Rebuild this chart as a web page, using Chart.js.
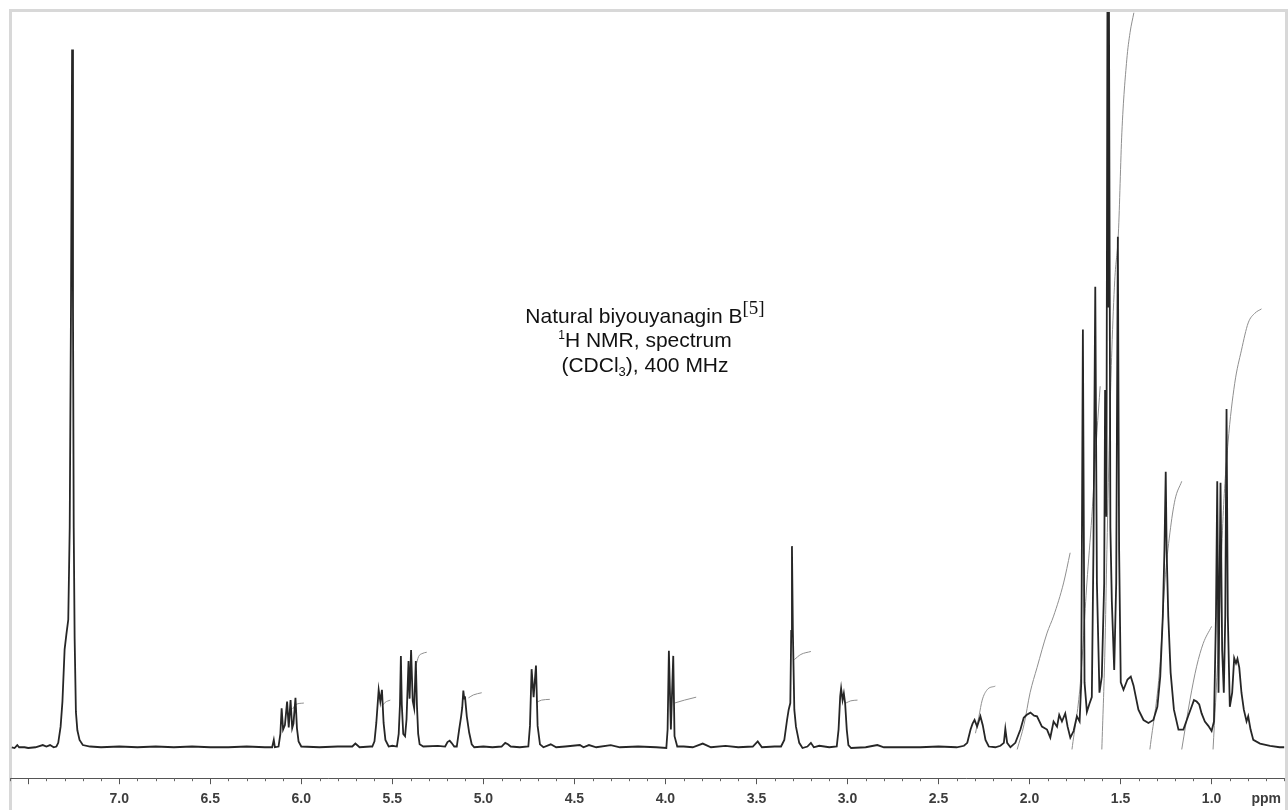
<!DOCTYPE html>
<html>
<head>
<meta charset="utf-8">
<script src="https://cdn.jsdelivr.net/npm/chart.js@4.4.1/dist/chart.umd.min.js"></script>
<style>
  html, body { margin: 0; padding: 0; background: #fff; }
  #wrap { position: relative; width: 1288px; height: 810px; overflow: hidden; }
  #frame { position: absolute; left: 9px; top: 9px; width: 1273px; height: 820px;
           border: 3px solid #d8d8d8; border-bottom: none; }
  #chart { position: absolute; left: 0; top: 0; }
  #note { position: absolute; left: 445px; top: 305px; width: 400px; text-align: center;
          font-family: "Liberation Sans", Arial, sans-serif; font-size: 21px; line-height: 22.5px; color: #111; }
  #note .ref { font-family: "Liberation Serif", "Times New Roman", serif; font-size: 19px; position: relative; top: -9px; }
  #note .sup { font-size: 12px; position: relative; top: -8px; }
  #note .sub { font-size: 13px; position: relative; top: 4px; }
</style>
</head>
<body>
<div id="wrap">
  <div id="frame"></div>
  <canvas id="chart" width="1288" height="819"></canvas>
  <div id="note">
    Natural biyouyanagin B<span class="ref">[5]</span><br>
    <span class="sup">1</span>H NMR, spectrum<br>
    (CDCl<span class="sub">3</span>), 400 MHz
  </div>
</div>
<script>
// 1H trace, [ppm, intensity] (baseline = 0)
var spectrum = [
  [7.59,0.2],[7.575,0.1],[7.56,0.5],[7.55,0.2],[7.52,0.2],[7.50,0.1],[7.46,0.2],[7.42,0.5],[7.40,0.3],[7.38,0.5],[7.36,0.2],[7.345,0.3],
  [7.335,0.8],[7.322,3.0],[7.312,6.4],[7.300,13.5],[7.290,15.6],[7.280,17.5],[7.272,30],[7.265,60],[7.259,94.9],[7.254,60],[7.250,30],[7.245,15],[7.238,5],[7.230,2.5],[7.218,1.2],[7.20,0.5],[7.16,0.3],
  [7.10,0.2],[7.0,0.3],[6.9,0.2],[6.8,0.3],[6.7,0.2],[6.6,0.3],[6.5,0.2],[6.4,0.2],[6.3,0.3],[6.2,0.2],[6.16,0.2],[6.151,1.2],[6.145,0.2],
  [6.125,0.3],[6.115,2.0],[6.108,5.5],[6.100,2.6],[6.090,3.2],[6.078,6.4],[6.069,2.9],[6.059,6.6],[6.050,2.8],[6.043,3.4],[6.032,6.9],[6.024,2.8],[6.015,1.0],[6.0,0.3],
  [5.9,0.2],[5.8,0.3],[5.72,0.3],[5.703,0.7],[5.68,0.2],[5.62,0.3],
  [5.61,0.3],[5.598,1.0],[5.588,3.5],[5.575,8.0],[5.566,6.4],[5.557,8.0],[5.548,3.5],[5.538,1.2],[5.52,0.3],[5.50,0.4],
  [5.475,0.3],[5.465,2.0],[5.458,6.0],[5.453,12.6],[5.448,6.0],[5.440,2.0],[5.430,1.7],[5.422,4.0],[5.411,11.9],[5.405,6.8],[5.397,13.4],[5.388,6.5],[5.380,5.5],[5.371,11.9],[5.365,6.0],[5.358,2.0],[5.35,0.6],[5.33,0.3],
  [5.25,0.4],[5.21,0.3],[5.197,0.9],[5.185,1.1],[5.175,0.8],[5.16,0.3],
  [5.146,0.3],[5.133,2.6],[5.122,4.4],[5.116,5.6],[5.110,7.9],[5.105,6.8],[5.101,7.1],[5.091,4.4],[5.078,2.2],[5.064,0.6],[5.05,0.2],
  [5.0,0.3],[4.95,0.2],[4.90,0.3],[4.88,0.8],[4.865,0.6],[4.85,0.3],[4.80,0.2],
  [4.753,0.3],[4.744,3.1],[4.735,10.8],[4.724,7.0],[4.711,11.3],[4.702,3.1],[4.689,0.6],[4.67,0.2],
  [4.63,0.6],[4.60,0.2],[4.55,0.3],[4.47,0.5],[4.45,0.2],[4.42,0.5],[4.38,0.2],[4.30,0.5],[4.25,0.2],[4.15,0.3],[4.05,0.2],
  [3.995,0.1],[3.988,2.6],[3.981,13.3],[3.970,2.6],[3.957,12.6],[3.950,1.7],[3.935,0.3],
  [3.90,0.3],[3.85,0.2],[3.795,0.7],[3.75,0.2],[3.67,0.4],[3.60,0.2],[3.52,0.3],[3.493,1.0],[3.47,0.2],[3.40,0.3],
  [3.365,0.3],[3.347,1.2],[3.332,3.9],[3.323,5.3],[3.314,6.2],[3.309,16],[3.305,27.5],[3.300,16],[3.292,5.3],[3.283,3.0],[3.265,0.8],[3.247,0.1],
  [3.22,0.3],[3.201,0.8],[3.185,0.2],[3.155,0.4],[3.10,0.2],
  [3.059,0.3],[3.049,2.6],[3.040,7.1],[3.035,8.2],[3.027,6.6],[3.020,7.5],[3.013,6.2],[3.004,2.6],[2.995,0.5],[2.98,0.1],
  [2.90,0.2],[2.836,0.5],[2.80,0.2],[2.70,0.2],[2.60,0.2],[2.50,0.3],[2.40,0.2],[2.36,0.4],
  [2.342,0.8],[2.324,2.6],[2.313,3.4],[2.302,3.9],[2.288,3.0],[2.270,4.4],[2.257,3.2],[2.242,1.2],[2.224,0.3],[2.188,0.2],[2.160,0.4],[2.141,0.8],[2.133,2.7],[2.123,0.8],[2.105,0.2],
  [2.078,0.8],[2.050,2.6],[2.032,4.2],[2.015,4.6],[1.995,4.9],[1.975,4.5],[1.959,4.4],[1.932,3.0],[1.904,2.6],[1.886,1.5],[1.868,3.7],[1.849,3.0],[1.837,4.6],[1.822,3.7],[1.804,4.8],[1.791,3.0],[1.776,1.5],[1.758,2.4],[1.740,4.4],[1.725,3.7],
  [1.716,9.0],[1.707,56.9],[1.698,9.0],[1.685,5.0],[1.671,6.1],[1.658,7.0],[1.649,27],[1.639,62.7],[1.630,22.5],[1.616,7.6],[1.603,9.8],[1.590,22.5],[1.585,48.7],[1.578,31.5],
  [1.572,103],[1.568,60],[1.564,103],[1.556,30],[1.548,20],[1.535,10.7],[1.524,22.5],[1.515,69.5],[1.508,27],[1.499,9.0],[1.484,8.0],[1.462,9.4],[1.444,9.8],[1.429,8.6],[1.402,5.3],[1.374,3.9],[1.347,3.5],[1.320,3.9],
  [1.298,5.7],[1.282,9.8],[1.268,18],[1.259,27],[1.252,37.6],[1.247,27],[1.238,18],[1.225,10.3],[1.207,5.3],[1.182,2.6],[1.155,2.6],
  [1.129,4.4],[1.110,5.7],[1.097,6.6],[1.082,6.4],[1.068,6.0],[1.055,4.8],[1.037,3.7],[1.018,3.1],[1.000,2.4],
  [0.987,3.7],[0.976,18],[0.969,36.3],[0.962,7.6],[0.951,36.1],[0.942,13.4],[0.933,7.6],[0.925,18],[0.918,46.1],[0.911,18],[0.900,5.7],
  [0.887,7.6],[0.876,12.3],[0.866,11.6],[0.858,12.2],[0.848,11.0],[0.836,7.6],[0.823,5.3],[0.808,3.7],[0.799,4.4],[0.786,2.6],[0.771,1.2],[0.734,0.7],[0.679,0.4],[0.626,0.2],[0.60,0.2]
];

// integral curves, one per multiplet
var integrals = [
  [[6.047,5.4],[6.030,6.0],[5.986,6.2]],
  [[5.557,5.8],[5.539,6.3],[5.511,6.6]],
  [[5.371,11.2],[5.356,12.5],[5.338,12.9],[5.311,13.1]],
  [[5.082,6.9],[5.055,7.3],[5.009,7.6]],
  [[4.708,6.3],[4.680,6.6],[4.635,6.7]],
  [[3.950,6.2],[3.895,6.6],[3.831,7.0]],
  [[3.292,12.1],[3.256,12.8],[3.201,13.2]],
  [[3.009,6.2],[2.982,6.5],[2.945,6.6]],
  [[2.297,2.1],[2.278,4.4],[2.260,6.6],[2.233,8.0],[2.188,8.5]],
  [[2.068,-0.1],[2.030,3.3],[1.997,7.6],[1.959,11.0],[1.904,15.7],[1.868,18.0],[1.813,22.5],[1.777,26.6]],
  [[1.767,-0.1],[1.721,8.9],[1.685,22.5],[1.658,31.5],[1.630,42.9],[1.612,49.2]],
  [[1.603,-0.1],[1.586,13.4],[1.575,27],[1.559,44.6],[1.548,54.1],[1.532,63.6],[1.512,70],[1.493,83.6],[1.466,93.5],[1.448,97.2],[1.427,99.9]],
  [[1.339,-0.1],[1.284,11.2],[1.257,22.5],[1.229,29.3],[1.201,33.8],[1.164,36.3]],
  [[1.164,-0.1],[1.119,6.6],[1.082,11.2],[1.046,14.3],[1.000,16.6]],
  [[0.992,-0.1],[0.964,13.4],[0.937,31.5],[0.910,41.5],[0.873,49.6],[0.836,54.1],[0.799,57.8],[0.763,59.1],[0.726,59.7]]
];

// axis ticks
var tickValues = [7.5, 7.0, 6.5, 6.0, 5.5, 5.0, 4.5, 4.0, 3.5, 3.0, 2.5, 2.0, 1.5, 1.0];
var unitTickAt = 0.7;

function toPoints(list) {
  return list.map(function (p) { return { x: p[0], y: p[1] }; });
}

var datasets = [{
  data: toPoints(spectrum),
  borderColor: "#262626",
  borderWidth: 1.8,
  tension: 0,
  pointRadius: 0
}];

integrals.forEach(function (curve) {
  datasets.push({
    data: toPoints(curve),
    borderColor: "#8f8f8f",
    borderWidth: 1,
    cubicInterpolationMode: "monotone",
    pointRadius: 0
  });
});

// short ticks every 0.1 ppm
var minorTicks = {
  id: "minorTicks",
  afterDraw: function (chart) {
    var sc = chart.scales.x;
    var c = chart.ctx;
    var y0 = chart.chartArea.bottom;
    c.save();
    c.strokeStyle = "#666";
    c.lineWidth = 1;
    for (var i = 6; i <= 76; i++) {
      if (i % 5 === 0) continue;
      var px = Math.round(sc.getPixelForValue(i / 10)) + 0.5;
      c.beginPath();
      c.moveTo(px, y0);
      c.lineTo(px, y0 + 3);
      c.stroke();
    }
    c.restore();
  }
};

new Chart(document.getElementById("chart").getContext("2d"), {
  type: "line",
  data: { datasets: datasets },
  options: {
    responsive: false,
    animation: false,
    layout: { padding: { left: 10, right: 0, top: 12, bottom: 4 } },
    plugins: { legend: { display: false }, tooltip: { enabled: false } },
    scales: {
      x: {
        type: "linear",
        reverse: true,
        min: 0.6,
        max: 7.6,
        afterBuildTicks: function (scale) {
          scale.ticks = tickValues.concat([unitTickAt]).map(function (v) { return { value: v }; });
        },
        ticks: {
          autoSkip: false,
          maxRotation: 0,
          padding: 7,
          color: "#3d3d3d",
          font: { family: "Liberation Sans", size: 14, weight: "bold" },
          callback: function (v) {
            if (v === unitTickAt) return "ppm";
            if (v === 7.5) return "";
            return v.toFixed(1);
          }
        },
        grid: {
          drawOnChartArea: false,
          tickLength: 6,
          tickColor: function (ctx) {
            return ctx.tick && ctx.tick.value === unitTickAt ? "rgba(0,0,0,0)" : "#555";
          }
        },
        border: { display: true, color: "#555", width: 1 }
      },
      y: { display: false, min: -4, max: 100 }
    }
  },
  plugins: [minorTicks]
});
</script>
</body>
</html>
